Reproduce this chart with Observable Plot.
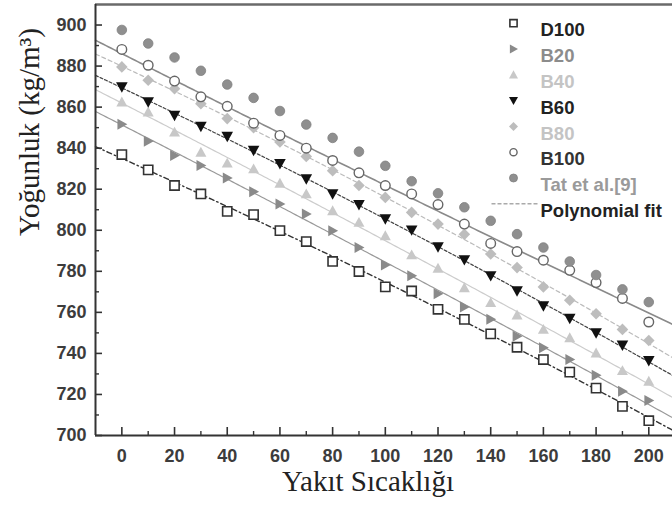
<!DOCTYPE html>
<html><head><meta charset="utf-8">
<script src="https://cdn.jsdelivr.net/npm/d3@7"></script>
<script src="https://cdn.jsdelivr.net/npm/@observablehq/plot@0.6"></script>
<style>html,body{margin:0;padding:0;background:#fff;overflow:hidden}</style>
</head><body><div id="chart"></div>
<script>
// ---- data ----
const temps = [0,10,20,30,40,50,60,70,80,90,100,110,120,130,140,150,160,170,180,190,200];
const d100 = [836.9,829.4,821.8,817.7,809.2,807.6,799.8,794.5,784.8,779.9,772.4,770.4,761.5,756.6,749.5,743.0,737.0,730.9,723.1,714.2,707.2];
const b20  = [851.6,843.4,836.4,831.5,825.5,818.8,812.8,807.9,799.8,791.6,783.1,777.8,769.1,762.6,756.6,748.4,742.7,737.0,729.3,721.5,717.0];
const b40  = [862.5,857.6,847.8,838.0,832.7,829.9,822.9,817.7,809.5,803.8,797.3,788.0,781.5,772.0,764.7,758.7,751.7,747.6,740.2,731.6,726.4];
const b60  = [869.8,862.5,856.0,850.6,845.7,838.9,832.4,825.0,817.7,812.5,805.5,800.1,791.9,785.6,777.8,770.4,763.1,757.0,750.0,744.0,736.5];
const b80  = [879.6,873.1,869.0,861.7,854.4,850.0,843.0,836.0,829.0,821.8,816.0,808.7,803.0,798.0,788.4,781.8,772.4,765.9,759.3,751.7,746.3];
const b100 = [888.1,880.4,872.7,865.0,860.4,852.2,846.2,840.0,834.0,828.0,821.8,817.7,812.5,803.0,793.6,789.6,785.4,780.5,774.5,766.8,755.3];
const tat  = [897.6,891.0,884.2,877.7,871.0,864.5,858.1,851.5,845.0,838.3,831.4,823.9,818.0,811.2,804.6,798.1,791.6,784.8,778.2,771.2,765.0];
const seriesNames = ["D100","B20","B40","B60","B80","B100","Tat et al.[9]"];
const fitLabel = "Polynomial fit";
const xTicks = [0,20,40,60,80,100,120,140,160,180,200];
const xMinorTicks = [10,30,50,70,90,110,130,150,170,190];
const yTicks = [700,720,740,760,780,800,820,840,860,880,900];
const yMinorTicks = [710,730,750,770,790,810,830,850,870,890];
const xTitle = "Yakıt Sıcaklığı";
const yTitle = "Yoğunluk (kg/m³)";

// ---- symbols ----
function sym(fn){return {draw(c,size){const r=Math.sqrt(size/Math.PI); fn(c,r);}};}
const squareSym = sym((c,r)=>{c.moveTo(-r,-r);c.lineTo(r,-r);c.lineTo(r,r);c.lineTo(-r,r);c.closePath();});
const triRight  = sym((c,r)=>{c.moveTo(r,0);c.lineTo(-r*0.8,-r);c.lineTo(-r*0.8,r);c.closePath();});
const triUp     = sym((c,r)=>{c.moveTo(0,-r);c.lineTo(r,r*0.8);c.lineTo(-r,r*0.8);c.closePath();});
const triDown   = sym((c,r)=>{c.moveTo(0,r);c.lineTo(r,-r*0.8);c.lineTo(-r,-r*0.8);c.closePath();});
const diamond   = sym((c,r)=>{c.moveTo(0,-r);c.lineTo(r,0);c.lineTo(0,r);c.lineTo(-r,0);c.closePath();});
const circleSym = sym((c,r)=>{c.moveTo(r,0);c.arc(0,0,r,0,2*Math.PI);c.closePath();});
const dashSym   = {draw(c){c.moveTo(-23,0);c.lineTo(23,0);}};

const values = [d100,b20,b40,b60,b80,b100,tat];
const styles = [
  {symbol:squareSym, r:4.6, fill:"white", stroke:"#333", sw:1.6, line:"#333", dash:"5,3,1.5,3", lw:1.4, text:"#222", lr:3.6},
  {symbol:triRight,  r:5.5, fill:"#8a8a8a", stroke:"none", sw:0, line:"#999", dash:null, lw:1.2, text:"#8c8c8c", lr:4.5},
  {symbol:triUp,     r:5.5, fill:"#c8c8c8", stroke:"none", sw:0, line:"#ccc", dash:null, lw:1.2, text:"#c4c4c4", lr:4.5},
  {symbol:triDown,   r:5.8, fill:"#111", stroke:"none", sw:0, line:"#444", dash:"3,2", lw:1.2, text:"#222", lr:4.5},
  {symbol:diamond,   r:5.8, fill:"#bdbdbd", stroke:"none", sw:0, line:"#bbb", dash:"4,3", lw:1.2, text:"#c4c4c4", lr:4.5},
  {symbol:circleSym, r:4.8, fill:"white", stroke:"#666", sw:1.4, line:"#8a8a8a", dash:null, lw:1.6, text:"#333", lr:3.6},
  {symbol:circleSym, r:4.8, fill:"#8f8f8f", stroke:"#808080", sw:0.8, line:null, dash:null, lw:0, text:"#9a9a9a", lr:4}
];

const xDomain = [-10, 209];
const yDomain = [700, 910];

// quadratic least-squares fit
function polyfit2(xs, ys){
  let S=[0,0,0,0,0], T=[0,0,0];
  xs.forEach((x,i)=>{let p=1; for(let k=0;k<5;k++){S[k]+=p; if(k<3) T[k]+=p*ys[i]; p*=x;}});
  const A=[[S[0],S[1],S[2],T[0]],[S[1],S[2],S[3],T[1]],[S[2],S[3],S[4],T[2]]];
  for(let i=0;i<3;i++){for(let j=i+1;j<3;j++){const f=A[j][i]/A[i][i]; for(let k=i;k<4;k++) A[j][k]-=f*A[i][k];}}
  const c=[0,0,0];
  for(let i=2;i>=0;i--){let s=A[i][3]; for(let k=i+1;k<3;k++) s-=A[i][k]*c[k]; c[i]=s/A[i][i];}
  return x=>c[0]+c[1]*x+c[2]*x*x;
}
const sampleT = d3.range(xDomain[0], xDomain[1]+0.001, 1);

const marks = [];
// fit lines
values.forEach((vals,i)=>{
  const st = styles[i];
  if(!st.line) return;
  const f = polyfit2(temps, vals);
  marks.push(Plot.line(sampleT.map(t=>({t, v:f(t)})), {x:"t", y:"v", stroke:st.line, strokeWidth:st.lw, strokeDasharray:st.dash}));
});
// axes frame
marks.push(Plot.ruleY([yDomain[1]], {stroke:"#6a6a6a", strokeWidth:2.5}));
marks.push(Plot.ruleX([xDomain[0]], {stroke:"#333", strokeWidth:2}));
marks.push(Plot.ruleY([yDomain[0]], {stroke:"#333", strokeWidth:2}));
// points
values.forEach((vals,i)=>{
  const st = styles[i];
  marks.push(Plot.dot(temps.map((t,j)=>({t, v:vals[j]})), {x:"t", y:"v", symbol:st.symbol, r:st.r, fill:st.fill, stroke:st.stroke, strokeWidth:st.sw}));
});
// ticks (pointing inward)
marks.push(Plot.tickY(yTicks, {y:d=>d, insetRight:672-95-7, stroke:"#333", strokeWidth:1.6}));
marks.push(Plot.tickY(yMinorTicks, {y:d=>d, insetRight:672-95-4, stroke:"#333", strokeWidth:1.4}));
marks.push(Plot.tickX(xTicks, {x:d=>d, insetTop:435-4-8, stroke:"#333", strokeWidth:1.6}));
marks.push(Plot.tickX(xMinorTicks, {x:d=>d, insetTop:435-4-4, stroke:"#333", strokeWidth:1.4}));
// tick labels
const tickFont = {fontFamily:"Liberation Sans", fontSize:18, fontWeight:"bold", fill:"#3c3c3c"};
marks.push(Plot.axisY(yTicks, {anchor:"left", tickSize:0, tickPadding:9, label:null, ...tickFont}));
marks.push(Plot.axisX(xTicks, {anchor:"bottom", tickSize:0, tickPadding:14, label:null, ...tickFont}));
// titles
marks.push(Plot.text([xTitle], {frameAnchor:"bottom", dx:-16, dy:55, fontFamily:"Liberation Serif", fontSize:29, fill:"#222"}));
marks.push(Plot.text([yTitle], {frameAnchor:"left", dx:-66, dy:16, rotate:-90, fontFamily:"Liberation Serif", fontSize:29, fill:"#222"}));
// legend
const legX = 418, legTextX = 445, legY0 = 18.7, legStep = 25.8;
const legFont = {fontFamily:"Liberation Sans", fontSize:18.5, fontWeight:"bold"};
seriesNames.forEach((name,i)=>{
  const st = styles[i];
  marks.push(Plot.dot([name], {frameAnchor:"top-left", dx:legX, dy:legY0+i*legStep, symbol:st.symbol, r:st.lr, fill:st.fill, stroke:st.stroke, strokeWidth:st.sw}));
  marks.push(Plot.text([name], {frameAnchor:"top-left", dx:legTextX, dy:legY0+i*legStep, textAnchor:"start", ...legFont, fill:st.text}));
});
const iFit = seriesNames.length;
marks.push(Plot.dot([fitLabel], {frameAnchor:"top-left", dx:legX+1, dy:legY0+iFit*legStep, symbol:dashSym, stroke:"#aaa", strokeWidth:1.4, strokeDasharray:"4,2"}));
marks.push(Plot.text([fitLabel], {frameAnchor:"top-left", dx:legTextX, dy:legY0+iFit*legStep, textAnchor:"start", ...legFont, fill:"#222"}));

const chart = Plot.plot({
  width:672, height:510,
  marginLeft:95, marginRight:0, marginTop:4, marginBottom:75,
  style:{background:"white", color:"#333", overflow:"hidden"},
  x:{domain:xDomain},
  y:{domain:yDomain},
  marks
});
document.getElementById("chart").appendChild(chart);
</script>
</body></html>
